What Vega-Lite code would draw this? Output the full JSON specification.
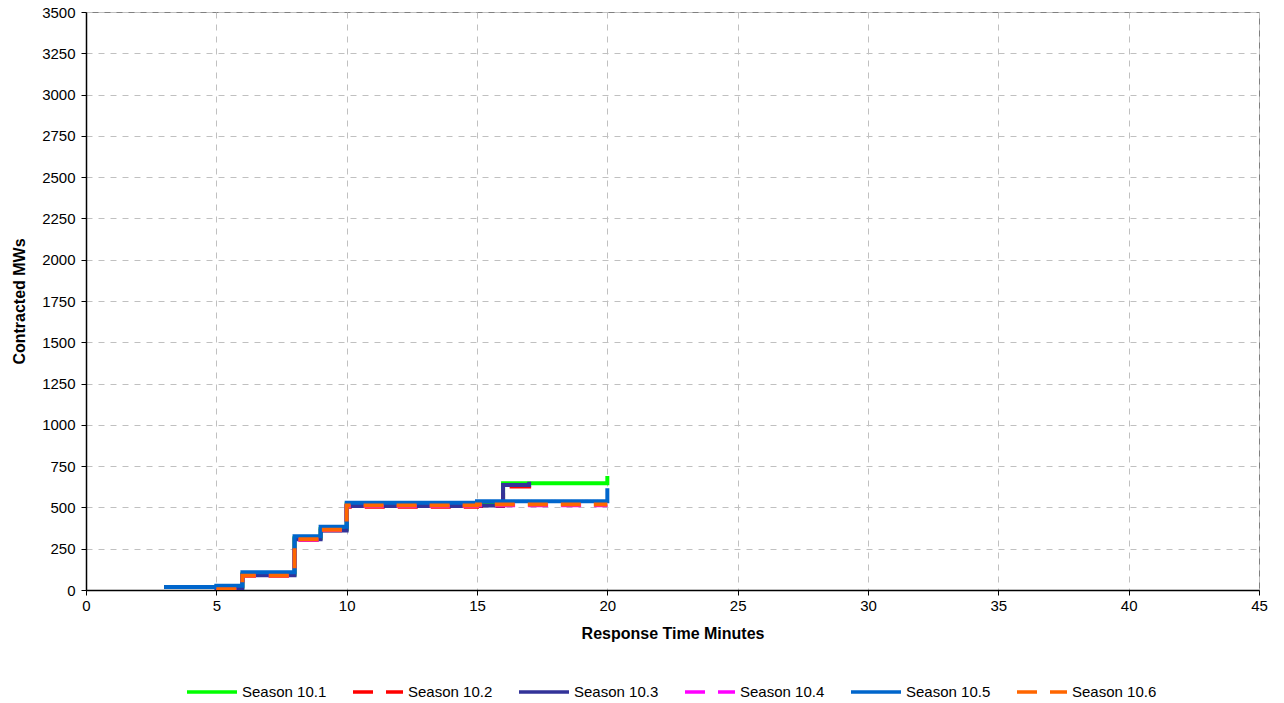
{
  "$schema": "https://vega.github.io/schema/vega-lite/v6.json",
  "width": 1173,
  "height": 578,
  "autosize": "none",
  "padding": {"left": 86, "top": 12, "right": 25, "bottom": 113},
  "background": "white",
  "config": {
    "font": "Liberation Sans",
    "view": {"stroke": "#808080", "strokeWidth": 1}
  },
  "data": {
    "values": [
      {"series": "Season 10.1", "x": 3, "y": 18},
      {"series": "Season 10.1", "x": 5, "y": 20},
      {"series": "Season 10.1", "x": 6, "y": 95},
      {"series": "Season 10.1", "x": 8, "y": 315},
      {"series": "Season 10.1", "x": 9, "y": 370},
      {"series": "Season 10.1", "x": 10, "y": 520},
      {"series": "Season 10.1", "x": 15, "y": 525},
      {"series": "Season 10.1", "x": 16, "y": 646},
      {"series": "Season 10.1", "x": 20, "y": 690},

      {"series": "Season 10.2", "x": 5, "y": 4},
      {"series": "Season 10.2", "x": 6, "y": 86},
      {"series": "Season 10.2", "x": 8, "y": 305},
      {"series": "Season 10.2", "x": 9, "y": 362},
      {"series": "Season 10.2", "x": 10, "y": 504},
      {"series": "Season 10.2", "x": 15, "y": 508},
      {"series": "Season 10.2", "x": 16, "y": 626},
      {"series": "Season 10.2", "x": 17, "y": 630},

      {"series": "Season 10.3", "x": 3, "y": 18},
      {"series": "Season 10.3", "x": 5, "y": 12},
      {"series": "Season 10.3", "x": 6, "y": 90},
      {"series": "Season 10.3", "x": 8, "y": 307},
      {"series": "Season 10.3", "x": 9, "y": 361},
      {"series": "Season 10.3", "x": 10, "y": 508},
      {"series": "Season 10.3", "x": 15, "y": 512},
      {"series": "Season 10.3", "x": 16, "y": 636},
      {"series": "Season 10.3", "x": 17, "y": 656},

      {"series": "Season 10.4", "x": 5, "y": 3},
      {"series": "Season 10.4", "x": 6, "y": 85},
      {"series": "Season 10.4", "x": 8, "y": 305},
      {"series": "Season 10.4", "x": 9, "y": 363},
      {"series": "Season 10.4", "x": 10, "y": 509},
      {"series": "Season 10.4", "x": 15, "y": 513},
      {"series": "Season 10.4", "x": 20, "y": 513},

      {"series": "Season 10.5", "x": 3, "y": 18},
      {"series": "Season 10.5", "x": 5, "y": 26},
      {"series": "Season 10.5", "x": 6, "y": 107},
      {"series": "Season 10.5", "x": 8, "y": 325},
      {"series": "Season 10.5", "x": 9, "y": 383},
      {"series": "Season 10.5", "x": 10, "y": 529},
      {"series": "Season 10.5", "x": 15, "y": 537},
      {"series": "Season 10.5", "x": 20, "y": 616},

      {"series": "Season 10.6", "x": 5, "y": 5},
      {"series": "Season 10.6", "x": 6, "y": 87},
      {"series": "Season 10.6", "x": 8, "y": 307},
      {"series": "Season 10.6", "x": 9, "y": 365},
      {"series": "Season 10.6", "x": 10, "y": 512},
      {"series": "Season 10.6", "x": 15, "y": 517},
      {"series": "Season 10.6", "x": 20, "y": 517}
    ]
  },
  "mark": {"type": "line", "interpolate": "step-after", "strokeWidth": 4, "clip": true},
  "encoding": {
    "x": {
      "field": "x", "type": "quantitative",
      "scale": {"domain": [0, 45], "nice": false, "zero": true},
      "axis": {
        "title": "Response Time Minutes",
        "values": [0, 5, 10, 15, 20, 25, 30, 35, 40, 45],
        "format": "d",
        "labelFlush": false,
        "labelFontSize": 15, "labelColor": "#000000", "labelPadding": 3,
        "titleFontSize": 16, "titleFontWeight": "bold", "titleColor": "#000000", "titlePadding": 12,
        "domainColor": "#000000", "domainWidth": 1.5,
        "tickColor": "#000000", "tickSize": 5,
        "grid": true, "gridColor": "#c0c0c0", "gridDash": [6, 6], "gridWidth": 1
      }
    },
    "y": {
      "field": "y", "type": "quantitative",
      "scale": {"domain": [0, 3500], "nice": false},
      "axis": {
        "title": "Contracted MWs",
        "values": [0, 250, 500, 750, 1000, 1250, 1500, 1750, 2000, 2250, 2500, 2750, 3000, 3250, 3500],
        "format": "d",
        "labelFlush": false,
        "labelFontSize": 15, "labelColor": "#000000", "labelPadding": 6,
        "titleFontSize": 16, "titleFontWeight": "bold", "titleColor": "#000000", "titlePadding": 14,
        "domainColor": "#000000", "domainWidth": 1.5,
        "tickColor": "#000000", "tickSize": 5,
        "grid": true, "gridColor": "#c0c0c0", "gridDash": [6, 6], "gridWidth": 1
      }
    },
    "color": {
      "field": "series", "type": "nominal",
      "scale": {
        "domain": ["Season 10.1", "Season 10.2", "Season 10.3", "Season 10.4", "Season 10.5", "Season 10.6"],
        "range": ["#00FF00", "#FF0000", "#333399", "#FF00FF", "#0066CC", "#FF6600"]
      },
      "legend": {
        "title": null,
        "orient": "none",
        "direction": "horizontal",
        "legendX": 99,
        "legendY": 653,
        "symbolType": "stroke",
        "symbolSize": 2500,
        "symbolStrokeWidth": 3.5,
        "labelFontSize": 15,
        "labelColor": "#000000",
        "labelOffset": 3,
        "columnPadding": 19
      }
    },
    "strokeDash": {
      "field": "series", "type": "nominal",
      "scale": {
        "domain": ["Season 10.1", "Season 10.2", "Season 10.3", "Season 10.4", "Season 10.5", "Season 10.6"],
        "range": [[1, 0], [20, 13], [1, 0], [20, 13], [1, 0], [20, 13]]
      },
      "legend": null
    }
  }
}
